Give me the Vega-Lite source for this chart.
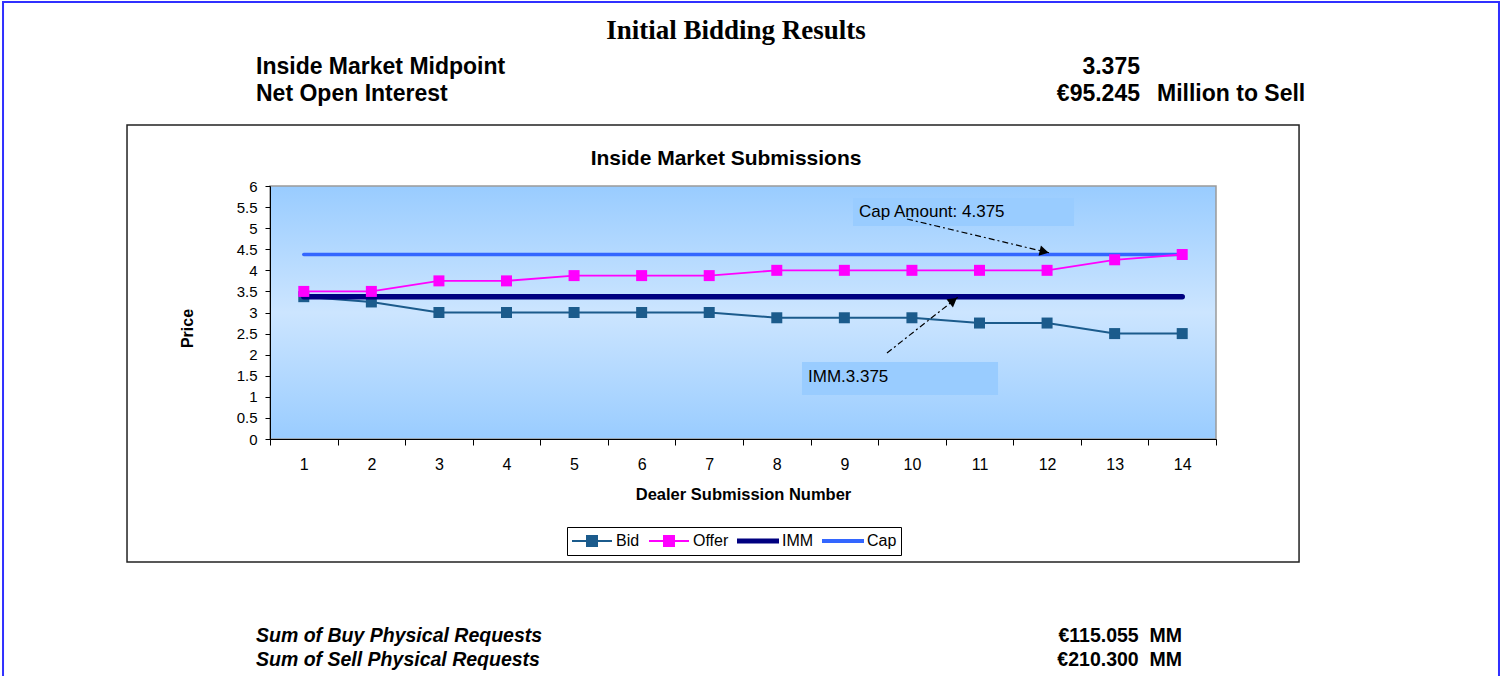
{
  "$schema": "https://vega.github.io/schema/vega-lite/v6.json",
  "width": 946,
  "height": 253,
  "autosize": {"type": "none"},
  "padding": {"left": 270, "top": 186, "right": 288, "bottom": 237},
  "background": "white",
  "config": {
    "font": "Liberation Sans",
    "view": {
      "stroke": "#9a9a9a",
      "strokeWidth": 1.5,
      "fill": {
        "gradient": "linear", "x1": 0, "y1": 0, "x2": 0, "y2": 1,
        "stops": [
          {"offset": 0, "color": "#99CCFF"},
          {"offset": 0.5, "color": "#CCE5FF"},
          {"offset": 1, "color": "#99CCFF"}
        ]
      }
    },
    "axis": {
      "grid": false,
      "domainColor": "black",
      "domainWidth": 1,
      "labelFont": "Liberation Sans",
      "labelColor": "black",
      "titleFont": "Liberation Sans",
      "titleFontWeight": "bold",
      "titleColor": "black"
    }
  },
  "datasets": {
    "series": [
      {"series": "Bid", "x": 1, "y": 3.375},
      {"series": "Bid", "x": 2, "y": 3.25},
      {"series": "Bid", "x": 3, "y": 3},
      {"series": "Bid", "x": 4, "y": 3},
      {"series": "Bid", "x": 5, "y": 3},
      {"series": "Bid", "x": 6, "y": 3},
      {"series": "Bid", "x": 7, "y": 3},
      {"series": "Bid", "x": 8, "y": 2.875},
      {"series": "Bid", "x": 9, "y": 2.875},
      {"series": "Bid", "x": 10, "y": 2.875},
      {"series": "Bid", "x": 11, "y": 2.75},
      {"series": "Bid", "x": 12, "y": 2.75},
      {"series": "Bid", "x": 13, "y": 2.5},
      {"series": "Bid", "x": 14, "y": 2.5},
      {"series": "Offer", "x": 1, "y": 3.5},
      {"series": "Offer", "x": 2, "y": 3.5},
      {"series": "Offer", "x": 3, "y": 3.75},
      {"series": "Offer", "x": 4, "y": 3.75},
      {"series": "Offer", "x": 5, "y": 3.875},
      {"series": "Offer", "x": 6, "y": 3.875},
      {"series": "Offer", "x": 7, "y": 3.875},
      {"series": "Offer", "x": 8, "y": 4},
      {"series": "Offer", "x": 9, "y": 4},
      {"series": "Offer", "x": 10, "y": 4},
      {"series": "Offer", "x": 11, "y": 4},
      {"series": "Offer", "x": 12, "y": 4},
      {"series": "Offer", "x": 13, "y": 4.25},
      {"series": "Offer", "x": 14, "y": 4.375},
      {"series": "IMM", "x": 1, "y": 3.375},
      {"series": "IMM", "x": 2, "y": 3.375},
      {"series": "IMM", "x": 3, "y": 3.375},
      {"series": "IMM", "x": 4, "y": 3.375},
      {"series": "IMM", "x": 5, "y": 3.375},
      {"series": "IMM", "x": 6, "y": 3.375},
      {"series": "IMM", "x": 7, "y": 3.375},
      {"series": "IMM", "x": 8, "y": 3.375},
      {"series": "IMM", "x": 9, "y": 3.375},
      {"series": "IMM", "x": 10, "y": 3.375},
      {"series": "IMM", "x": 11, "y": 3.375},
      {"series": "IMM", "x": 12, "y": 3.375},
      {"series": "IMM", "x": 13, "y": 3.375},
      {"series": "IMM", "x": 14, "y": 3.375},
      {"series": "Cap", "x": 1, "y": 4.375},
      {"series": "Cap", "x": 2, "y": 4.375},
      {"series": "Cap", "x": 3, "y": 4.375},
      {"series": "Cap", "x": 4, "y": 4.375},
      {"series": "Cap", "x": 5, "y": 4.375},
      {"series": "Cap", "x": 6, "y": 4.375},
      {"series": "Cap", "x": 7, "y": 4.375},
      {"series": "Cap", "x": 8, "y": 4.375},
      {"series": "Cap", "x": 9, "y": 4.375},
      {"series": "Cap", "x": 10, "y": 4.375},
      {"series": "Cap", "x": 11, "y": 4.375},
      {"series": "Cap", "x": 12, "y": 4.375},
      {"series": "Cap", "x": 13, "y": 4.375},
      {"series": "Cap", "x": 14, "y": 4.375}
    ]
  },
  "encoding": {
    "x": {
      "field": "x",
      "type": "quantitative",
      "scale": {"domain": [0.5, 14.5], "nice": false, "zero": false},
      "axis": {
        "title": "Dealer Submission Number",
        "values": [0.5, 1, 1.5, 2, 2.5, 3, 3.5, 4, 4.5, 5, 5.5, 6, 6.5, 7, 7.5, 8, 8.5, 9, 9.5, 10, 10.5, 11, 11.5, 12, 12.5, 13, 13.5, 14, 14.5],
        "format": "~g",
        "labelExpr": "datum.value % 1 == 0 ? datum.label : ''",
        "labelOverlap": false,
        "labelFlush": false,
        "labelBound": false,
        "labelFontSize": 16,
        "titleFontSize": 16.5,
        "tickColor": {"condition": {"test": "datum.value % 1 == 0", "value": "transparent"}, "value": "black"},
        "tickSize": 6,
        "labelPadding": 11,
        "titlePadding": 14
      }
    },
    "y": {
      "field": "y",
      "type": "quantitative",
      "scale": {"domain": [0, 6], "nice": false, "zero": false},
      "axis": {
        "title": "Price",
        "values": [0, 0.5, 1, 1.5, 2, 2.5, 3, 3.5, 4, 4.5, 5, 5.5, 6],
        "format": "~g",
        "labelFontSize": 15,
        "titleFontSize": 16,
        "tickColor": "black",
        "tickSize": 5,
        "labelPadding": 8,
        "labelFlush": false,
        "labelOverlap": false,
        "titlePadding": 41,
        "titleY": 142
      }
    }
  },
  "layer": [
    {
      "data": {"values": [{"x": -3.451, "x2": 18.688, "y": 10.364, "y2": -5.668}]},
      "mark": {"type": "rect", "fill": "transparent", "stroke": "#3030FF", "strokeWidth": 2},
      "encoding": {"x2": {"field": "x2"}, "y2": {"field": "y2"}}
    },
    {
      "data": {"values": [{"x": -1.616, "x2": 15.729, "y": 7.447, "y2": -2.917}]},
      "mark": {"type": "rect", "fill": "transparent", "stroke": "#222222", "strokeWidth": 1.5},
      "encoding": {"x2": {"field": "x2"}, "y2": {"field": "y2"}}
    },
    {
      "data": {"values": [
        {"x": 9.128, "x2": 12.399, "y": 5.715, "y2": 5.051},
        {"x": 8.373, "x2": 11.274, "y": 1.826, "y2": 1.043}
      ]},
      "mark": {"type": "rect", "fill": "#99CCFF", "strokeWidth": 0},
      "encoding": {"x2": {"field": "x2"}, "y2": {"field": "y2"}}
    },
    {
      "data": {"name": "series"},
      "transform": [{"filter": "datum.series == 'Bid'"}],
      "mark": {"type": "line", "strokeWidth": 2},
      "encoding": {
        "color": {
          "field": "series", "type": "nominal",
          "scale": {"domain": ["Bid", "Offer", "IMM", "Cap"], "range": ["#1B5B8C", "#FF00FF", "#000080", "#3366FF"]},
          "legend": {
            "orient": "none", "legendX": 297, "legendY": 341, "direction": "horizontal", "title": null,
            "strokeColor": "black", "fillColor": "white", "padding": 4,
            "labelFont": "Liberation Sans", "labelFontSize": 16, "labelColor": "black", "labelOffset": 3, "columnPadding": 8,
            "symbolSize": 1600, "symbolStrokeWidth": 2, "symbolType": "M-1,0H1", "clipHeight": 20,
            "encode": {"symbols": {"update": {
              "shape": {"signal": "datum.value == 'Bid' || datum.value == 'Offer' ? 'M-1,0H1M-0.25,-0.25H0.25V0.25H-0.25Z' : datum.value == 'IMM' ? 'M-1,-0.075H1V0.075H-1Z' : 'M-1,-0.05H1V0.05H-1Z'"},
              "stroke": {"signal": "{'Bid': '#1B5B8C', 'Offer': '#FF00FF', 'IMM': '#000080', 'Cap': '#3366FF'}[datum.value]"},
              "fill": {"signal": "{'Bid': '#1B5B8C', 'Offer': '#FF00FF', 'IMM': '#000080', 'Cap': '#3366FF'}[datum.value]"},
              "size": {"value": 1600},
              "opacity": {"value": 1},
              "fillOpacity": {"value": 1},
              "strokeOpacity": {"value": 1}
            }}}
          }
        }
      }
    },
    {
      "data": {"name": "series"},
      "transform": [{"filter": "datum.series == 'Bid'"}],
      "mark": {"type": "point", "shape": "square", "filled": true, "size": 121, "opacity": 1},
      "encoding": {"color": {"field": "series", "type": "nominal"}}
    },
    {
      "data": {"name": "series"},
      "transform": [{"filter": "datum.series == 'IMM'"}],
      "mark": {"type": "line", "strokeWidth": 5.5, "strokeCap": "round"},
      "encoding": {"color": {"field": "series", "type": "nominal"}}
    },
    {
      "data": {"name": "series"},
      "transform": [{"filter": "datum.series == 'Cap'"}],
      "mark": {"type": "line", "strokeWidth": 3.5, "strokeCap": "round"},
      "encoding": {"color": {"field": "series", "type": "nominal"}}
    },
    {
      "data": {"name": "series"},
      "transform": [{"filter": "datum.series == 'Offer'"}],
      "mark": {"type": "line", "strokeWidth": 1.8},
      "encoding": {"color": {"field": "series", "type": "nominal"}}
    },
    {
      "data": {"name": "series"},
      "transform": [{"filter": "datum.series == 'Offer'"}],
      "mark": {"type": "point", "shape": "square", "filled": true, "size": 121, "opacity": 1},
      "encoding": {"color": {"field": "series", "type": "nominal"}}
    },
    {
      "data": {"values": [
        {"x": 9.927, "y": 5.217, "x2": 12.043, "y2": 4.411},
        {"x": 9.631, "y": 2.04, "x2": 10.682, "y2": 3.368}
      ]},
      "mark": {"type": "rule", "color": "black", "strokeWidth": 1.2, "strokeDash": [6, 3, 2, 3]},
      "encoding": {"x2": {"field": "x2"}, "y2": {"field": "y2"}}
    },
    {
      "data": {"values": [{"x": 11.957, "y": 4.444}]},
      "mark": {"type": "point", "shape": "triangle-right", "filled": true, "color": "black", "size": 110, "opacity": 1, "angle": 13},
      "encoding": {}
    },
    {
      "data": {"values": [{"x": 10.612, "y": 3.28}]},
      "mark": {"type": "point", "shape": "triangle-right", "filled": true, "color": "black", "size": 110, "opacity": 1, "angle": 322},
      "encoding": {}
    },
    {
      "data": {"values": [
        {"x": 9.217, "y": 5.383, "text": "Cap Amount: 4.375"},
        {"x": 8.462, "y": 1.47, "text": "IMM.3.375"}
      ]},
      "mark": {"type": "text", "align": "left", "baseline": "middle", "font": "Liberation Sans", "fontSize": 17, "color": "black"},
      "encoding": {"text": {"field": "text"}}
    },
    {
      "data": {"values": [{"x": 7.396, "y": 9.676, "text": "Initial Bidding Results"}]},
      "mark": {"type": "text", "align": "center", "baseline": "middle", "font": "Liberation Serif", "fontSize": 27, "fontWeight": "bold", "color": "black"},
      "encoding": {"text": {"field": "text"}}
    },
    {
      "data": {"values": [
        {"x": 0.293, "y": 8.822, "text": "Inside Market Midpoint"},
        {"x": 0.293, "y": 8.182, "text": "Net Open Interest"},
        {"x": 13.627, "y": 8.182, "text": "Million to Sell"}
      ]},
      "mark": {"type": "text", "align": "left", "baseline": "middle", "font": "Liberation Sans", "fontSize": 23, "fontWeight": "bold", "color": "black"},
      "encoding": {"text": {"field": "text"}}
    },
    {
      "data": {"values": [
        {"x": 13.375, "y": 8.822, "text": "3.375"},
        {"x": 13.375, "y": 8.182, "text": "€95.245"}
      ]},
      "mark": {"type": "text", "align": "right", "baseline": "middle", "font": "Liberation Sans", "fontSize": 23, "fontWeight": "bold", "color": "black"},
      "encoding": {"text": {"field": "text"}}
    },
    {
      "data": {"values": [{"x": 7.249, "y": 6.64, "text": "Inside Market Submissions"}]},
      "mark": {"type": "text", "align": "center", "baseline": "middle", "font": "Liberation Sans", "fontSize": 21, "fontWeight": "bold", "color": "black"},
      "encoding": {"text": {"field": "text"}}
    },
    {
      "data": {"values": [
        {"x": 0.293, "y": -4.672, "text": "Sum of Buy Physical Requests"},
        {"x": 0.293, "y": -5.241, "text": "Sum of Sell Physical Requests"}
      ]},
      "mark": {"type": "text", "align": "left", "baseline": "middle", "font": "Liberation Sans", "fontSize": 19.5, "fontWeight": "bold", "fontStyle": "italic", "color": "black"},
      "encoding": {"text": {"field": "text"}}
    },
    {
      "data": {"values": [
        {"x": 13.997, "y": -4.672, "text": "€115.055\u00a0\u00a0MM"},
        {"x": 13.997, "y": -5.241, "text": "€210.300\u00a0\u00a0MM"}
      ]},
      "mark": {"type": "text", "align": "right", "baseline": "middle", "font": "Liberation Sans", "fontSize": 19.5, "fontWeight": "bold", "color": "black"},
      "encoding": {"text": {"field": "text"}}
    }
  ]
}
